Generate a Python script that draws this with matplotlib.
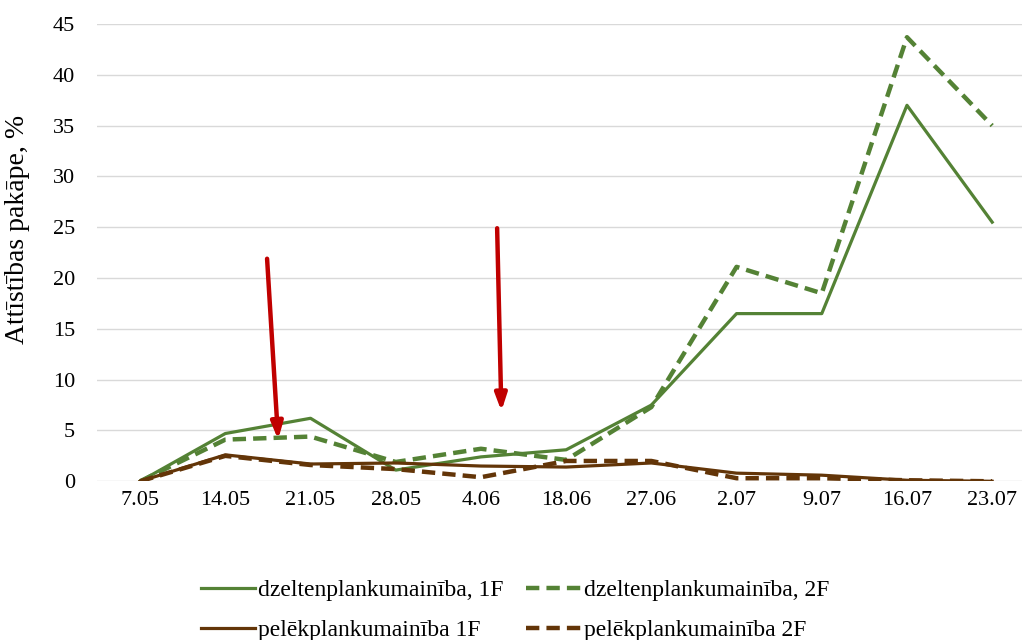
import matplotlib.pyplot as plt

plt.rcParams['font.family'] = ['Liberation Serif', 'DejaVu Serif']

dates = ['7.05', '14.05', '21.05', '28.05', '4.06', '18.06', '27.06',
         '2.07', '9.07', '16.07', '23.07']
yellow_1f = [0, 4.7, 6.2, 1.1, 2.4, 3.1, 7.5, 16.5, 16.5, 37.0, 25.5]
yellow_2f = [0, 4.1, 4.4, 1.9, 3.2, 2.1, 7.3, 21.1, 18.5, 43.7, 35.0]
grey_1f = [0, 2.6, 1.7, 1.8, 1.5, 1.4, 1.8, 0.8, 0.6, 0.1, 0.0]
grey_2f = [0, 2.5, 1.6, 1.2, 0.4, 2.0, 2.0, 0.3, 0.3, 0.1, 0.0]

green = '#548235'
brown = '#633508'
dash = (0, (3, 1.6))

fig = plt.figure(figsize=(10.22, 6.4), dpi=100)
ax = fig.add_axes([0.095, 0.248, 0.905, 0.7145])

x = range(len(dates))
l1, = ax.plot(x, yellow_1f, color=green, lw=2.3, label='dzeltenplankumainība, 1F')
l2, = ax.plot(x, yellow_2f, color=green, lw=3.2, ls=dash,
              label='dzeltenplankumainība, 2F')
l3, = ax.plot(x, grey_1f, color=brown, lw=2.3, label='pelēkplankumainība 1F')
l4, = ax.plot(x, grey_2f, color=brown, lw=3.2, ls=dash,
              label='pelēkplankumainība 2F')

# treatment markers
for (x0, y0), (x1, y1) in [((1.49, 21.9), (1.62, 4.1)),
                           ((4.19, 24.9), (4.24, 6.9))]:
    ax.annotate('', xy=(x1, y1), xytext=(x0, y0),
                arrowprops=dict(arrowstyle='-|>,head_length=1.0,head_width=0.35',
                                color='#c00000', lw=3.2, shrinkA=0, shrinkB=0))

ax.set_xlim(-0.505, 10.35)
ax.set_ylim(0, 45)
ax.set_yticks(range(0, 46, 5))
ax.set_xticks(list(x))
ax.set_xticklabels(dates)
ax.tick_params(axis='both', length=0, labelsize=16, colors='black')
ax.tick_params(axis='x', pad=7)
ax.tick_params(axis='y', pad=16)
ax.grid(axis='y', color='#d9d9d9', lw=1)
ax.set_axisbelow(True)
for s in ax.spines.values():
    s.set_visible(False)
ax.set_ylabel('Attīstības pakāpe, %', fontsize=20)
ax.yaxis.set_label_coords(-0.072, 0.55)

# row-wise order: yellow pair on top, grey pair below
ax.legend([l1, l3, l2, l4], [l.get_label() for l in (l1, l3, l2, l4)],
          loc='center', bbox_to_anchor=(0.452, -0.282), ncol=2, frameon=False,
          fontsize=17, handlelength=2.3, handletextpad=0.15, columnspacing=0.95,
          labelspacing=0.8, borderaxespad=0, borderpad=0)

fig.savefig('out.png', dpi=100)
